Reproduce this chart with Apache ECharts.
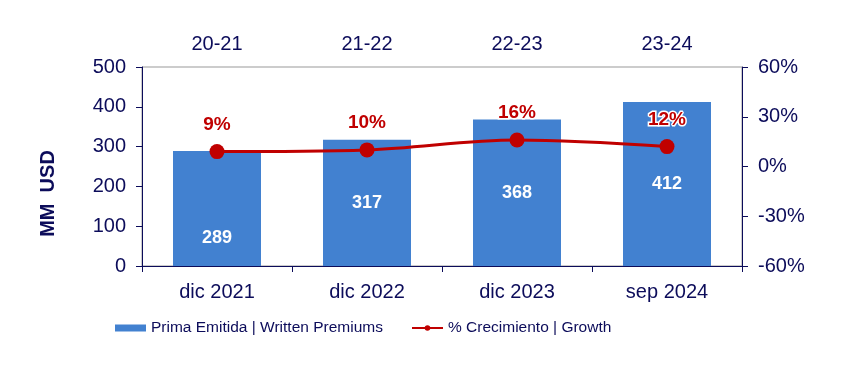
<!DOCTYPE html>
<html><head><meta charset="utf-8">
<script src="https://cdn.jsdelivr.net/npm/echarts@6/dist/echarts.min.js"></script>
<style>html,body{margin:0;padding:0;background:#fff}#c{width:845px;height:390px}</style>
</head><body><div id="c"></div>
<script>
const categories = ['dic 2021', 'dic 2022', 'dic 2023', 'sep 2024'];
const periods = ['20-21', '21-22', '22-23', '23-24'];
const premiums = [289, 317, 368, 412];
const growth = [9, 10, 16, 12];
const seriesNames = ['Prima Emitida | Written Premiums', '% Crecimiento | Growth'];

const navy = '#0c0c5a';
const font = 'Liberation Sans, Arial, sans-serif';
const chart = echarts.init(document.getElementById('c'));
chart.setOption({
  animation: false,
  grid: { left: 142, right: 103, top: 67, bottom: 124, show: true, borderColor: '#999', borderWidth: 1, backgroundColor: 'transparent' },
  legend: {
    top: 315, left: 110, itemGap: 28, itemWidth: 31, itemHeight: 7,
    textStyle: { color: navy, fontSize: 15.5, fontFamily: font },
    data: [
      { name: seriesNames[0], icon: 'rect' },
      { name: seriesNames[1] }
    ]
  },
  xAxis: [
    { type: 'category', data: categories, position: 'bottom',
      axisLine: { lineStyle: { color: navy } },
      axisTick: { show: true, length: 6, lineStyle: { color: navy } },
      axisLabel: { color: navy, fontSize: 20, fontFamily: font, margin: 16 } },
    { type: 'category', data: periods, position: 'top',
      axisLine: { show: false }, axisTick: { show: false },
      axisLabel: { color: navy, fontSize: 20, fontFamily: font, margin: 13 } }
  ],
  yAxis: [
    { type: 'value', min: 0, max: 500, interval: 100, position: 'left',
      name: 'MM  USD', nameLocation: 'middle', nameGap: 84, nameRotate: 90,
      nameTextStyle: { color: navy, fontSize: 20, fontWeight: 'bold', fontFamily: font, padding: [0, 54, 0, 0] },
      axisLine: { show: true, lineStyle: { color: navy } },
      axisTick: { show: true, length: 6, lineStyle: { color: navy } },
      splitLine: { show: false },
      axisLabel: { color: navy, fontSize: 20, fontFamily: font, margin: 16 } },
    { type: 'value', min: -60, max: 60, interval: 30, position: 'right',
      axisLine: { show: true, lineStyle: { color: navy } },
      axisTick: { show: true, length: 6, lineStyle: { color: navy } },
      splitLine: { show: false },
      axisLabel: { color: navy, fontSize: 20, fontFamily: font, margin: 16, formatter: '{value}%' } }
  ],
  series: [
    { name: seriesNames[0], type: 'bar', xAxisIndex: 0, yAxisIndex: 0, barWidth: 88,
      itemStyle: { color: '#4281d0' },
      data: premiums.map((v, i) => ({ value: v, label: i === 0 ? { offset: [0, 30] } : {} })),
      label: { show: true, position: 'inside', color: '#fff', fontSize: 18, fontWeight: 'bold', fontFamily: font } },
    { name: seriesNames[1], type: 'line', xAxisIndex: 0, yAxisIndex: 1, smooth: 0.35,
      data: growth, symbol: 'circle', symbolSize: 15,
      lineStyle: { color: '#c00000', width: 3 }, itemStyle: { color: '#c00000' },
      label: { show: true, position: 'top', distance: 10, color: '#c00000', fontSize: 19, fontWeight: 'bold', fontFamily: font,
        formatter: p => p.value + '%', textBorderColor: '#fff', textBorderWidth: 3 } }
  ]
});
</script></body></html>
